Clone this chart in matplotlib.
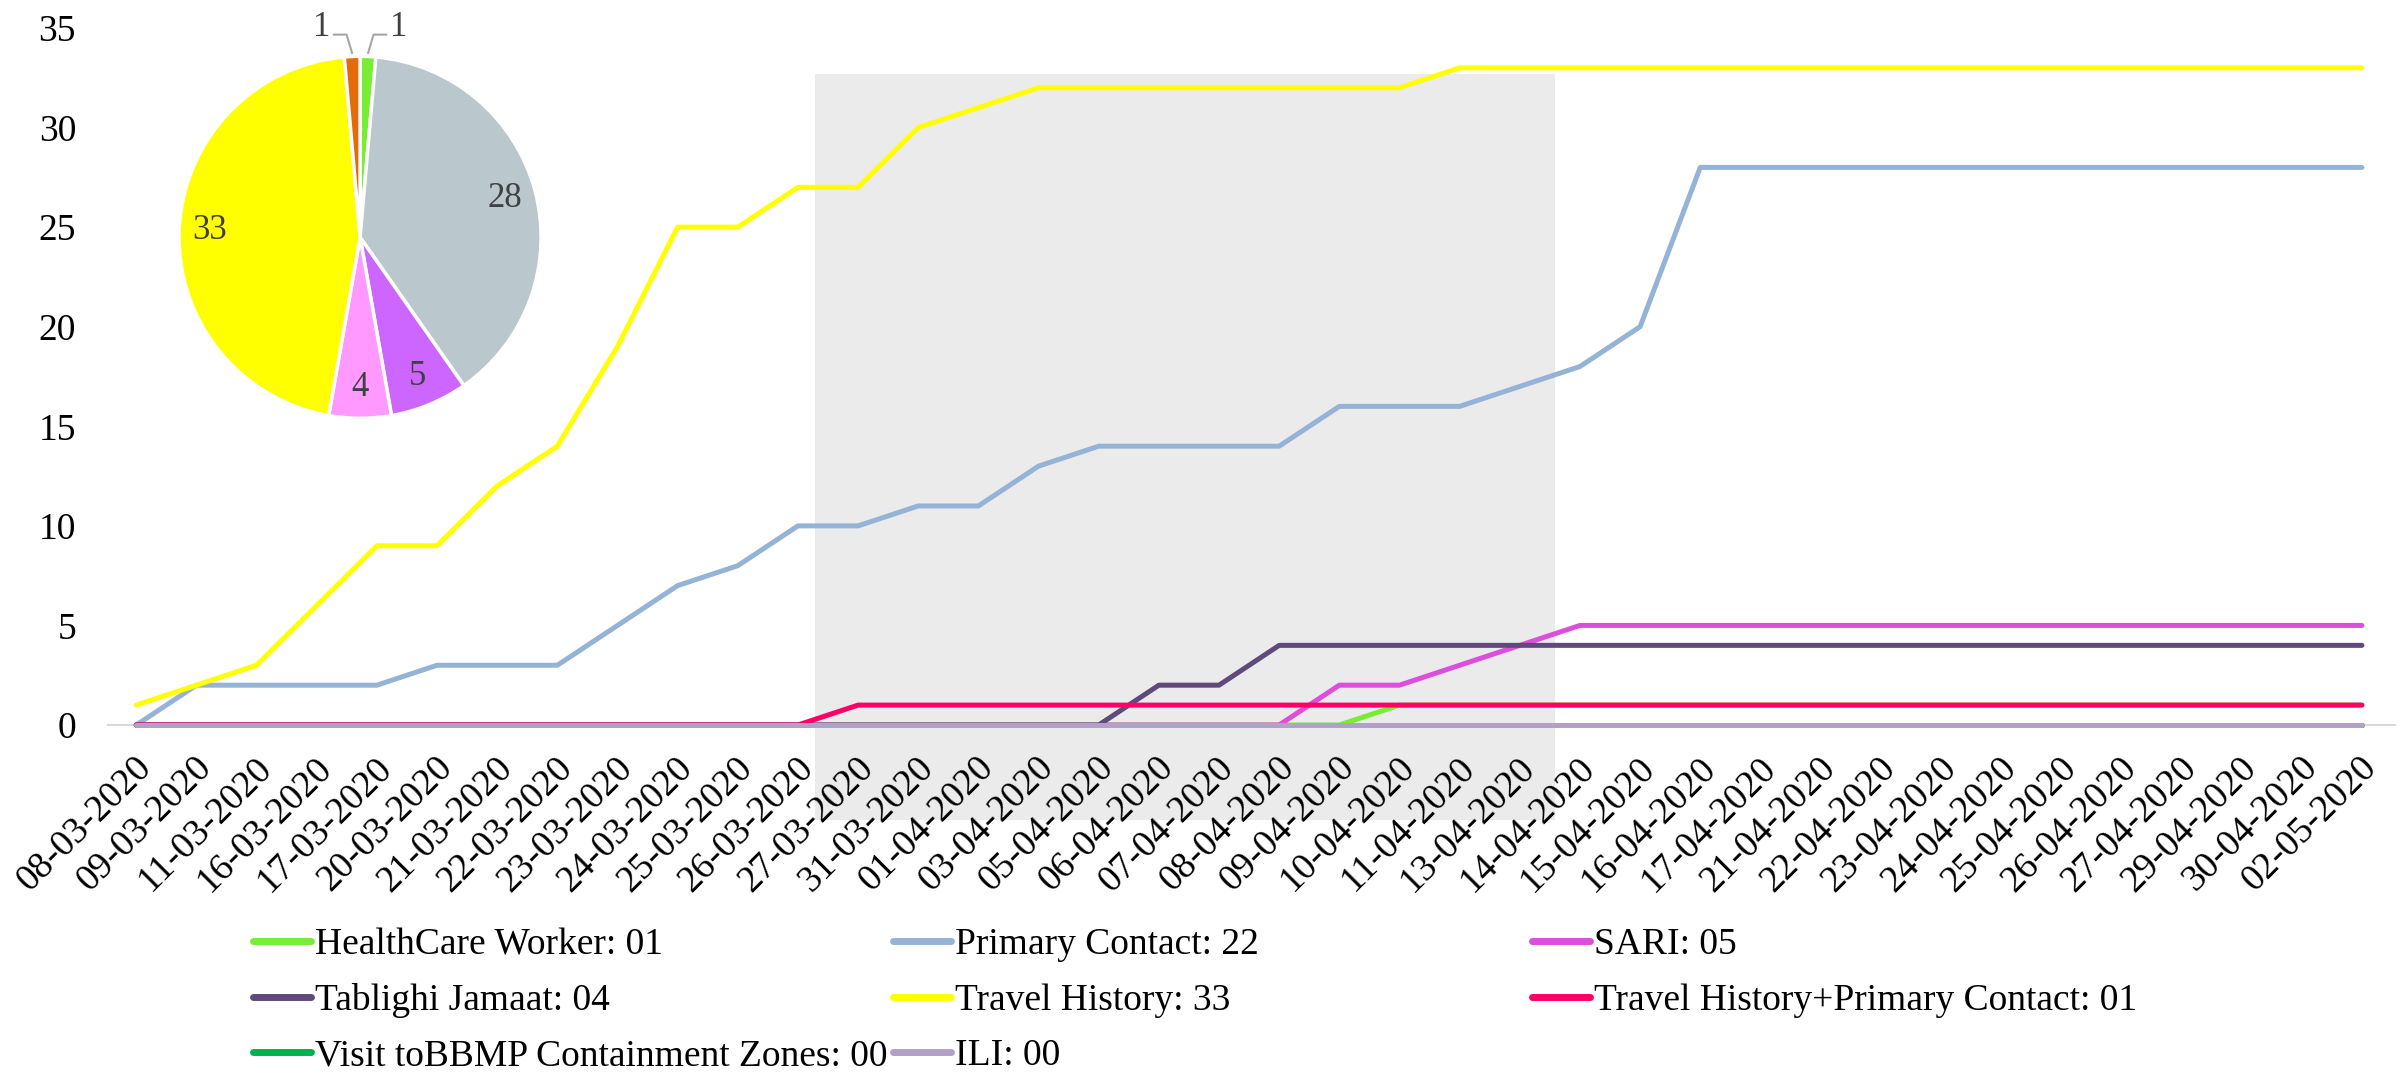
import matplotlib
matplotlib.use('Agg')
import matplotlib.pyplot as plt
from matplotlib.patches import Rectangle
from matplotlib.transforms import ScaledTranslation
import numpy as np

plt.rcParams['font.family'] = ['Liberation Serif', 'DejaVu Serif']

# ---- data ----
dates = ['08-03-2020', '09-03-2020', '11-03-2020', '16-03-2020', '17-03-2020', '20-03-2020',
         '21-03-2020', '22-03-2020', '23-03-2020', '24-03-2020', '25-03-2020', '26-03-2020',
         '27-03-2020', '31-03-2020', '01-04-2020', '03-04-2020', '05-04-2020', '06-04-2020',
         '07-04-2020', '08-04-2020', '09-04-2020', '10-04-2020', '11-04-2020', '13-04-2020',
         '14-04-2020', '15-04-2020', '16-04-2020', '17-04-2020', '21-04-2020', '22-04-2020',
         '23-04-2020', '24-04-2020', '25-04-2020', '26-04-2020', '27-04-2020', '29-04-2020',
         '30-04-2020', '02-05-2020']

healthcare = [0, 0, 0, 0, 0, 0, 0, 0, 0, 0, 0, 0, 0, 0, 0, 0, 0, 0, 0, 0, 0, 1, 1, 1, 1, 1, 1, 1, 1, 1, 1, 1, 1, 1, 1, 1, 1, 1]
primary = [0, 2, 2, 2, 2, 3, 3, 3, 5, 7, 8, 10, 10, 11, 11, 13, 14, 14, 14, 14, 16, 16, 16, 17, 18, 20, 28, 28, 28, 28, 28, 28, 28, 28, 28, 28, 28, 28]
sari = [0, 0, 0, 0, 0, 0, 0, 0, 0, 0, 0, 0, 0, 0, 0, 0, 0, 0, 0, 0, 2, 2, 3, 4, 5, 5, 5, 5, 5, 5, 5, 5, 5, 5, 5, 5, 5, 5]
tablighi = [0, 0, 0, 0, 0, 0, 0, 0, 0, 0, 0, 0, 0, 0, 0, 0, 0, 2, 2, 4, 4, 4, 4, 4, 4, 4, 4, 4, 4, 4, 4, 4, 4, 4, 4, 4, 4, 4]
travel = [1, 2, 3, 6, 9, 9, 12, 14, 19, 25, 25, 27, 27, 30, 31, 32, 32, 32, 32, 32, 32, 32, 33, 33, 33, 33, 33, 33, 33, 33, 33, 33, 33, 33, 33, 33, 33, 33]
travel_primary = [0, 0, 0, 0, 0, 0, 0, 0, 0, 0, 0, 0, 1, 1, 1, 1, 1, 1, 1, 1, 1, 1, 1, 1, 1, 1, 1, 1, 1, 1, 1, 1, 1, 1, 1, 1, 1, 1]
visit_bbmp = [0, 0, 0, 0, 0, 0, 0, 0, 0, 0, 0, 0, 0, 0, 0, 0, 0, 0, 0, 0, 0, 0, 0, 0, 0, 0, 0, 0, 0, 0, 0, 0, 0, 0, 0, 0, 0, 0]
ili = [0, 0, 0, 0, 0, 0, 0, 0, 0, 0, 0, 0, 0, 0, 0, 0, 0, 0, 0, 0, 0, 0, 0, 0, 0, 0, 0, 0, 0, 0, 0, 0, 0, 0, 0, 0, 0, 0]

series_labels = ['HealthCare Worker: 01', 'Primary Contact: 22', 'SARI: 05', 'Tablighi Jamaat: 04',
                 'Travel History: 33', 'Travel History+Primary Contact: 01',
                 'Visit toBBMP Containment Zones: 00', 'ILI: 00']
series_values = [healthcare, primary, sari, tablighi, travel, travel_primary, visit_bbmp, ili]
series_colors = ['#77ee33', '#95b3d7', '#dd4edd', '#604a7b', '#ffff00', '#ff0066', '#00b050', '#b1a0c7']

pie_values = [1, 28, 5, 4, 33, 1]
pie_colors = ['#77ee33', '#bac8cd', '#cc66ff', '#ff99ff', '#ffff00', '#e36c09']

fig = plt.figure(figsize=(24.07, 10.81), dpi=100)

# grey watermark panel behind the chart
fig.patches.append(Rectangle((815 / 2407, 1 - 820 / 1081), (1555 - 815) / 2407, (820 - 74) / 1081,
                             transform=fig.transFigure, facecolor='#ebebeb', edgecolor='none', zorder=-1))

ax = fig.add_axes([0.04487, 0.32932, 0.95015, 0.64477])
ax.patch.set_visible(False)
x = np.arange(len(dates))

ax.axhline(0, color='#d9d9d9', lw=1.5, zorder=1, clip_on=False)
for lab, vals, col in zip(series_labels, series_values, series_colors):
    ax.plot(x, vals, color=col, lw=3.6, label=lab, solid_capstyle='round',
            solid_joinstyle='round', clip_on=False, zorder=3)

ax.set_xlim(-0.47, 37.55)
ax.set_ylim(0, 35)
ax.set_yticks(range(0, 36, 5))
ax.set_xticks(x)
ax.set_xticklabels(dates, rotation=45, ha='right', va='center', rotation_mode='anchor', fontsize=27)
ax.tick_params(axis='x', length=0, pad=27)
ax.tick_params(axis='y', length=0, pad=23, labelsize=27)
# nudge the rotated dates a little to the right, as in the original
shift = ScaledTranslation(0.10, 0, fig.dpi_scale_trans)
for t in ax.get_xticklabels():
    t.set_transform(t.get_transform() + shift)
for s in ax.spines.values():
    s.set_visible(False)

# legend: three equal-width columns like the original
handles, labels = ax.get_legend_handles_labels()
columns = [[0, 3, 6], [1, 4, 7], [2, 5]]
col_x = [253 / 2407, 893 / 2407, 1532 / 2407]
for idx, cx in zip(columns, col_x):
    leg = fig.legend([handles[i] for i in idx], [labels[i] for i in idx], loc='upper left',
                     bbox_to_anchor=(cx, 1 - 928 / 1081), frameon=False, fontsize=27,
                     handlelength=1.55, handletextpad=0.1, labelspacing=0.55,
                     borderpad=0, borderaxespad=0)
    for ln in leg.get_lines():
        ln.set_linewidth(5)

# inset pie
pax = fig.add_axes([0.0744, 0.613, 0.1504, 0.3349])
wedges, _ = pax.pie(pie_values, colors=pie_colors, startangle=90, counterclock=False,
                    wedgeprops=dict(edgecolor='white', linewidth=2.5))
pax.set_xlim(-1, 1)
pax.set_ylim(-1, 1)
for w, v in zip(wedges, pie_values):
    mid = np.deg2rad((w.theta1 + w.theta2) / 2)
    if v > 2:
        pax.text(0.83 * np.cos(mid), 0.83 * np.sin(mid), str(v), ha='center', va='center',
                 fontsize=25, color='#404040')
    else:
        sgn = 1 if np.cos(mid) > 0 else -1
        p0 = (1.02 * np.cos(mid), 1.02 * np.sin(mid))
        p1 = (p0[0] + sgn * 0.03, 1.12)
        p2 = (p1[0] + sgn * 0.07, 1.12)
        pax.plot([p0[0], p1[0], p2[0]], [p0[1], p1[1], p2[1]], color='#a6a6a6', lw=1.5, clip_on=False)
        pax.text(p2[0] + sgn * 0.02, 1.16, str(v), ha='left' if sgn > 0 else 'right', va='center',
                 fontsize=25, color='#404040')

fig.savefig('out.png', dpi=100)
